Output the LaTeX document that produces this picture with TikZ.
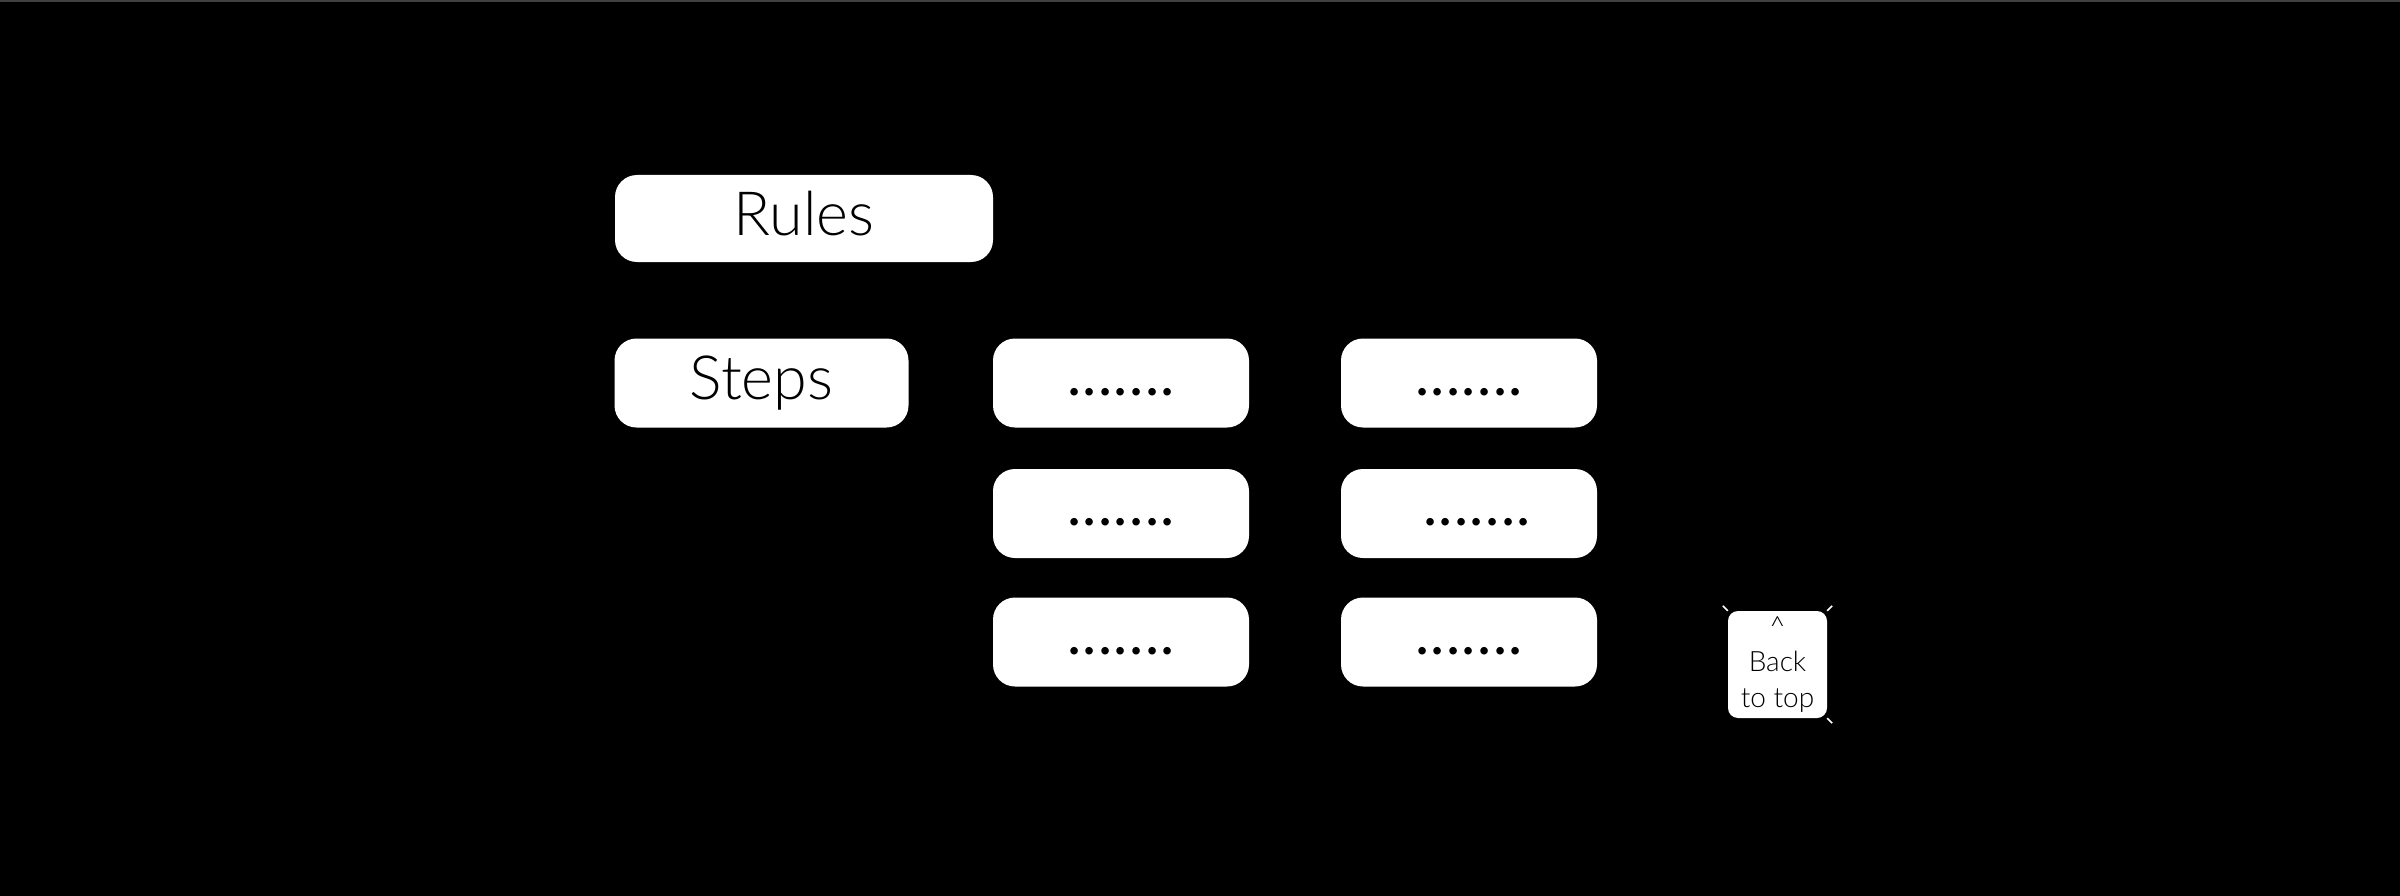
\documentclass[tikz,border=0pt]{standalone}
\usepackage{fontspec}
\setmainfont{Lato}[UprightFont=* Light]
\newfontfamily\dotfont{Lato}
\newcommand{\sevendots}{.\kern1.4pt.\kern1.4pt.\kern1.4pt.\kern1.4pt.\kern1.4pt.\kern1.4pt.}
\begin{document}
\begin{tikzpicture}[x=1pt,y=-1pt,
  card/.style={fill=white, rounded corners=22pt, inner sep=0pt, text=black,
    font=\fontsize{61}{72}\selectfont, text height=33pt, text depth=0pt},
  dotcard/.style={card, minimum width=256pt, minimum height=89pt, text height=24pt,
    font=\dotfont\fontsize{60}{72}\selectfont},
  tick/.style={draw=white, line width=1.5pt}
]
\fill[black] (0,0) rectangle (2400,896);
\useasboundingbox (0,0) rectangle (2400,896);
\draw[color=black!75!white, line width=2pt] (0,1) -- (2400,1);
\node[card, minimum width=378pt, minimum height=87pt] (rules) at (804,218.5) {Rules};
\node[card, minimum width=294pt, minimum height=89pt] (steps) at (761.5,383) {Steps};
\node[dotcard] (a1) at (1121,383) {\sevendots};
\node[dotcard] (a2) at (1121,513.5) {\sevendots};
\node[dotcard] (a3) at (1121,642) {\sevendots};
\node[dotcard] (b1) at (1469,383) {\sevendots};
\node[dotcard] (b2) at (1469,513.5) {\kern16pt\sevendots};
\node[dotcard] (b3) at (1469,642) {\sevendots};
\node[fill=white, rounded corners=10pt, inner sep=0pt, minimum width=99pt, minimum height=107pt,
  align=center, font=\fontsize{28}{35.6}\selectfont, text=black] (top) at (1777.5,664.5)
  {\textasciicircum\\Back\\to top};
\draw[tick] (top.north west) -- ++(-5,-5);
\draw[tick] (top.north east) -- ++(5,-5);
\draw[tick] (top.south east) -- ++(5,5);
\end{tikzpicture}
\end{document}
